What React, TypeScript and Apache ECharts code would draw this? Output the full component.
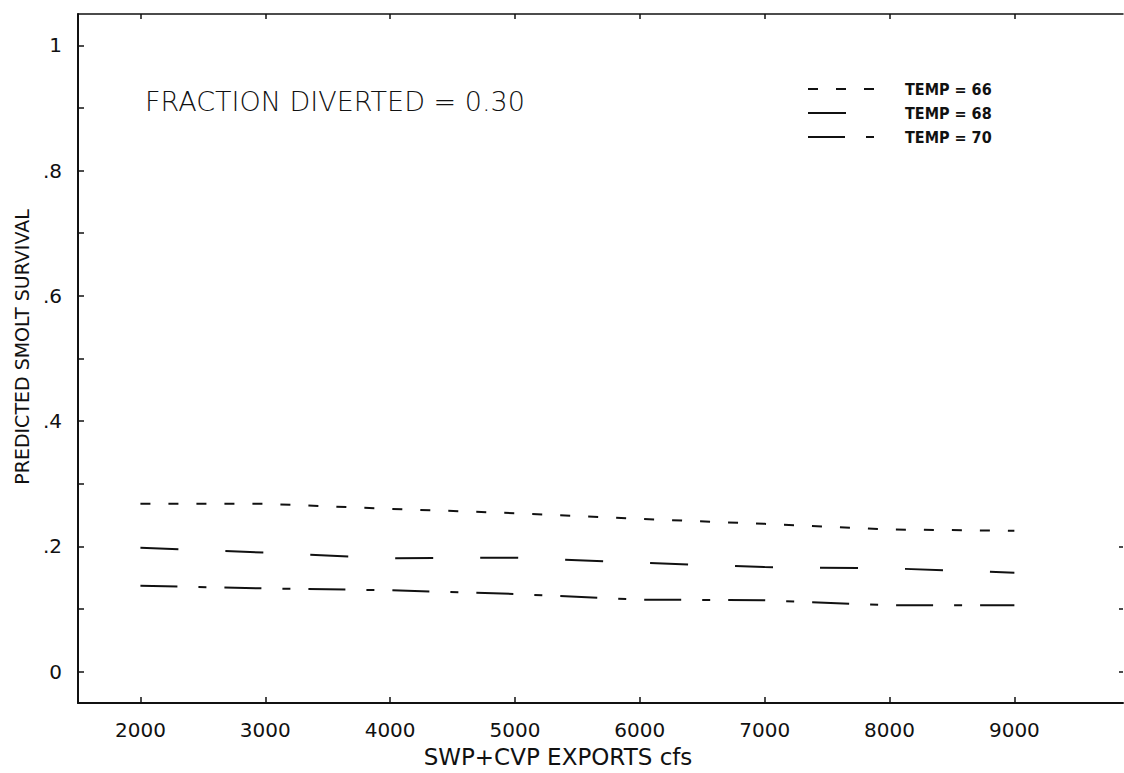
import React, { useEffect, useRef } from "react";
import * as echarts from "echarts";

const exportsCfs = [2000, 3000, 4000, 5000, 6000, 7000, 8000, 9000];
const temp66 = [0.268, 0.268, 0.26, 0.253, 0.244, 0.236, 0.227, 0.225];
const temp68 = [0.198, 0.19, 0.181, 0.182, 0.174, 0.167, 0.165, 0.158];
const temp70 = [0.137, 0.133, 0.13, 0.124, 0.115, 0.114, 0.106, 0.106];

const seriesNames = ["TEMP = 66", "TEMP = 68", "TEMP = 70"];
const xTickValues = [2000, 3000, 4000, 5000, 6000, 7000, 8000, 9000];
const yMajorValues = [0, 0.2, 0.4, 0.6, 0.8, 1];
const yMajorLabels = ["0", ".2", ".4", ".6", ".8", "1"];
const yMinorValues = [0, 0.1, 0.2, 0.3, 0.4, 0.5, 0.6, 0.7, 0.8, 0.9, 1];
const yRightTickValues = [0, 0.1, 0.2];

const chartTitle = "FRACTION DIVERTED = 0.30";
const xAxisTitle = "SWP+CVP EXPORTS cfs";
const yAxisTitle = "PREDICTED SMOLT SURVIVAL";

const FONT = "'DejaVu Sans', 'Open Sans', sans-serif";
const INK = "#111";

export default function App() {
  const ref = useRef<HTMLDivElement>(null);

  useEffect(() => {
    if (!ref.current) return;
    const chart = echarts.init(ref.current, undefined, { renderer: "svg" });

    const pair = (ys: number[]) => exportsCfs.map((x, i) => [x, ys[i]]);
    const dashes: number[][] = [
      [10, 18],
      [38, 47],
      [37, 21, 8, 18],
    ];
    const values = [temp66, temp68, temp70];

    const option: any = {
      animation: false,
      backgroundColor: "#fff",
      textStyle: { fontFamily: FONT, color: INK },
      grid: { left: 78, right: 1, top: 14, bottom: 70 },
      legend: {
        orient: "vertical",
        left: 802,
        top: 76,
        itemWidth: 66,
        itemHeight: 14,
        itemGap: 8,
        data: seriesNames,
        itemStyle: { color: "transparent", borderWidth: 0, opacity: 0 },
        textStyle: {
          fontFamily: "'DejaVu Sans Condensed', 'Liberation Sans Narrow', sans-serif",
          fontWeight: "bold",
          fontSize: 16,
          color: INK,
          padding: [0, 0, 0, 26],
        },
      },
      xAxis: [
        {
          type: "value",
          position: "bottom",
          min: 1500,
          max: 9870,
          axisLine: { show: true, onZero: false, lineStyle: { color: INK, width: 2 } },
          axisTick: {
            show: true,
            inside: true,
            length: 6,
            customValues: xTickValues,
            lineStyle: { color: INK, width: 1.5 },
          },
          axisLabel: {
            customValues: xTickValues,
            fontSize: 20,
            margin: 17,
            color: INK,
            fontFamily: FONT,
            formatter: (v: number) => String(v),
          },
          splitLine: { show: false },
        },
        {
          type: "value",
          position: "top",
          min: 1500,
          max: 9870,
          axisLine: { show: true, onZero: false, lineStyle: { color: INK, width: 1.5 } },
          axisTick: {
            show: true,
            inside: true,
            length: 5,
            customValues: xTickValues,
            lineStyle: { color: INK, width: 1.5 },
          },
          axisLabel: { show: false },
          splitLine: { show: false },
        },
      ],
      yAxis: [
        {
          type: "value",
          position: "left",
          min: -0.05,
          max: 1.05,
          axisLine: { show: true, onZero: false, lineStyle: { color: INK, width: 2 } },
          axisTick: {
            show: true,
            inside: true,
            length: 6,
            customValues: yMinorValues,
            lineStyle: { color: INK, width: 1.5 },
          },
          axisLabel: {
            customValues: yMajorValues,
            fontSize: 20,
            margin: 16,
            color: INK,
            fontFamily: FONT,
            formatter: (v: number) => {
              const idx = yMajorValues.findIndex((m) => Math.abs(m - v) < 1e-6);
              return idx >= 0 ? yMajorLabels[idx] : "";
            },
          },
          splitLine: { show: false },
        },
        {
          type: "value",
          position: "right",
          min: -0.05,
          max: 1.05,
          axisLine: { show: false, onZero: false },
          axisTick: {
            show: true,
            inside: true,
            length: 4,
            customValues: yRightTickValues,
            lineStyle: { color: INK, width: 1.5 },
          },
          axisLabel: { show: false },
          splitLine: { show: false },
        },
      ],
      series: seriesNames.map((name, i) => ({
        name,
        type: "line",
        xAxisIndex: 0,
        yAxisIndex: 0,
        data: pair(values[i]),
        showSymbol: false,
        symbol: "none",
        lineStyle: { color: INK, width: 2, type: dashes[i] },
        itemStyle: { color: INK },
      })),
      graphic: [
        {
          type: "text",
          left: 145,
          top: 88,
          style: {
            text: chartTitle,
            fontSize: 27,
            fontWeight: 200,
            fontFamily: FONT,
            fill: INK,
          },
        },
        {
          type: "text",
          x: 558,
          y: 757,
          style: {
            text: xAxisTitle,
            fontSize: 23,
            fontFamily: FONT,
            fill: INK,
            align: "center",
            verticalAlign: "middle",
          },
        },
        {
          type: "text",
          x: 22,
          y: 347,
          rotation: Math.PI / 2,
          style: {
            text: yAxisTitle,
            fontSize: 19,
            fontFamily: FONT,
            fill: INK,
            align: "center",
            verticalAlign: "middle",
          },
        },
      ],
    };

    chart.setOption(option);
    return () => chart.dispose();
  }, []);

  return (
    <div
      ref={ref}
      style={{ position: "absolute", left: 0, top: 0, width: 1124, height: 773, background: "#fff" }}
    />
  );
}
